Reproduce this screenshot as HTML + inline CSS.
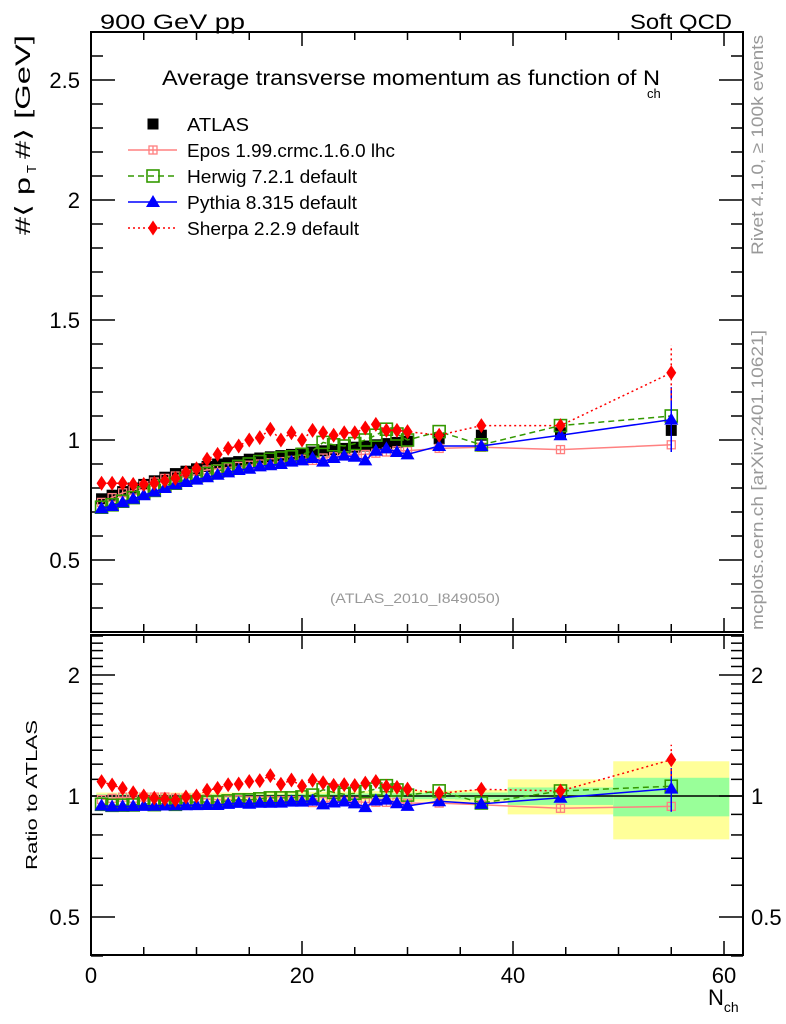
<!DOCTYPE html>
<html><head><meta charset="utf-8">
<style>
html,body{margin:0;padding:0;background:#fff;}
svg{display:block;font-family:"Liberation Sans",sans-serif;}
</style></head>
<body>
<svg id="chart" width="786" height="1024" viewBox="0 0 786 1024">
<g id="bands"></g>
<g id="axes"></g>
<g id="series"></g>
<text x="100" y="29" font-size="21" textLength="145" lengthAdjust="spacingAndGlyphs">900 GeV pp</text>
<text x="630" y="29" font-size="21" textLength="102" lengthAdjust="spacingAndGlyphs">Soft QCD</text>
<text x="162" y="85" font-size="21"><tspan textLength="498" lengthAdjust="spacingAndGlyphs">Average transverse momentum as function of N</tspan><tspan font-size="13" dy="13" dx="-13">ch</tspan></text>
<text x="415" y="603" font-size="14" fill="#999" text-anchor="middle" textLength="170" lengthAdjust="spacingAndGlyphs">(ATLAS_2010_I849050)</text>
<g transform="translate(30,235) rotate(-90)">
<text x="0" y="0" font-size="21" textLength="58" lengthAdjust="spacingAndGlyphs">#⟨ p</text>
<text x="62" y="6" font-size="13">T</text>
<text x="76" y="0" font-size="21" textLength="124" lengthAdjust="spacingAndGlyphs">#⟩ [GeV]</text>
</g>
<text transform="translate(37,795) rotate(-90)" font-size="16" text-anchor="middle" textLength="150" lengthAdjust="spacingAndGlyphs">Ratio to ATLAS</text>
<text x="708" y="1005" font-size="22">N<tspan font-size="14" dy="7">ch</tspan></text>
<text transform="translate(763,145) rotate(-90)" font-size="17" fill="#999" text-anchor="middle" textLength="220" lengthAdjust="spacingAndGlyphs">Rivet 4.1.0, ≥ 100k events</text>
<text transform="translate(763,480) rotate(-90)" font-size="17" fill="#999" text-anchor="middle" textLength="300" lengthAdjust="spacingAndGlyphs">mcplots.cern.ch [arXiv:2401.10621]</text>
<g id="legend"></g>
</svg>
<script>
const nch = [1,2,3,4,5,6,7,8,9,10,11,12,13,14,15,16,17,18,19,20,21,22,23,24,25,26,27,28,29,30,33,37,44.5,55];
const binLo = [0.5,1.5,2.5,3.5,4.5,5.5,6.5,7.5,8.5,9.5,10.5,11.5,12.5,13.5,14.5,15.5,16.5,17.5,18.5,19.5,20.5,21.5,22.5,23.5,24.5,25.5,26.5,27.5,28.5,29.5,30.5,34.5,39.5,49.5];
const binHi = [1.5,2.5,3.5,4.5,5.5,6.5,7.5,8.5,9.5,10.5,11.5,12.5,13.5,14.5,15.5,16.5,17.5,18.5,19.5,20.5,21.5,22.5,23.5,24.5,25.5,26.5,27.5,28.5,29.5,30.5,34.5,39.5,49.5,60.5];
const atlas = [0.755,0.77,0.785,0.80,0.815,0.83,0.845,0.86,0.87,0.88,0.89,0.90,0.905,0.91,0.92,0.925,0.93,0.935,0.94,0.945,0.95,0.955,0.96,0.965,0.97,0.975,0.98,0.985,0.99,0.995,1.005,1.02,1.03,1.04];
const atlasStat = [0.01,0.01,0.01,0.01,0.01,0.01,0.01,0.01,0.01,0.01,0.01,0.01,0.01,0.01,0.01,0.01,0.01,0.01,0.012,0.012,0.012,0.012,0.014,0.014,0.014,0.015,0.015,0.016,0.016,0.017,0.018,0.02,0.05,0.11];
const atlasTot = [0.02,0.02,0.02,0.02,0.02,0.02,0.02,0.02,0.02,0.02,0.02,0.02,0.02,0.02,0.02,0.022,0.022,0.022,0.024,0.024,0.024,0.025,0.026,0.026,0.027,0.028,0.028,0.029,0.03,0.03,0.032,0.035,0.1,0.22];
const epos = [0.74,0.76,0.78,0.79,0.81,0.825,0.84,0.85,0.86,0.87,0.875,0.88,0.885,0.89,0.895,0.90,0.905,0.91,0.915,0.92,0.915,0.925,0.93,0.935,0.94,0.94,0.945,0.95,0.955,0.955,0.965,0.97,0.96,0.98];
const herwig = [0.72,0.73,0.745,0.76,0.78,0.79,0.81,0.82,0.84,0.85,0.86,0.87,0.88,0.89,0.90,0.91,0.92,0.925,0.93,0.94,0.955,0.99,0.98,0.975,0.985,1.0,1.02,1.045,1.025,1.0,1.035,0.98,1.06,1.10];
const pythia = [0.715,0.725,0.74,0.755,0.77,0.785,0.80,0.815,0.825,0.835,0.845,0.855,0.865,0.875,0.88,0.89,0.895,0.90,0.91,0.915,0.925,0.91,0.925,0.935,0.93,0.915,0.955,0.965,0.95,0.94,0.975,0.975,1.02,1.085];
const sherpa = [0.82,0.82,0.82,0.815,0.815,0.82,0.83,0.84,0.865,0.88,0.92,0.94,0.965,0.975,1.0,1.01,1.045,1.0,1.03,1.0,1.04,1.03,1.02,1.03,1.03,1.05,1.065,1.04,1.04,1.035,1.02,1.06,1.06,1.28];
const lastErr = {atlas:0.03, epos:0.02, herwig:0.08, pythia:0.135, sherpa:0.115};
const xTicks = [0,20,40,60];
const yTicks = [0.5,1,1.5,2,2.5];
const rTicks = [0.5,1,2];

const NS='http://www.w3.org/2000/svg';
const X0=91, X1=743, XMAX=61.8;
const MT=32, MB=632, YMIN=0.2, YMAX=2.7;
const RT=635, RB=955, R1=796, RS=121;
const sx=v=>X0+(X1-X0)*v/XMAX;
const sy=v=>MB-(MB-MT)*(v-YMIN)/(YMAX-YMIN);
const sr=v=>R1-RS*Math.log2(v);
function el(tag,attrs,parent){const e=document.createElementNS(NS,tag);for(const k in attrs)e.setAttribute(k,attrs[k]);parent.appendChild(e);return e;}
const axes=document.getElementById('axes'), series=document.getElementById('series'), bands=document.getElementById('bands'), legend=document.getElementById('legend');

for(let i=0;i<nch.length;i++){
  const x1=sx(binLo[i]), x2=sx(binHi[i]);
  const ry=el('rect',{x:x1,y:sr(1+atlasTot[i]),width:x2-x1,height:sr(1-atlasTot[i])-sr(1+atlasTot[i]),fill:'#ffff99'},bands);
  
  
  const rg=el('rect',{x:x1,y:sr(1+atlasStat[i]),width:x2-x1,height:sr(1-atlasStat[i])-sr(1+atlasStat[i]),fill:'#99ff99'},bands);
  
  
}
const f1=el('rect',{x:X0,y:MT,width:X1-X0,height:MB-MT,fill:'none',stroke:'#000','stroke-width':2},axes);


const f2=el('rect',{x:X0,y:RT,width:X1-X0,height:RB-RT,fill:'none',stroke:'#000','stroke-width':2},axes);


const ul=el('line',{x1:X0,x2:X1,y1:sr(1),y2:sr(1),stroke:'#000','stroke-width':1.5},axes);


for(let v=0;v<=XMAX;v+=5){
  const L=(v%20===0)?14:8, x=sx(v);
  [[MT,1],[MB,-1],[RT,1],[RB,-1]].forEach(([y,d])=>{
    const t=el('line',{x1:x,x2:x,y1:y,y2:y+d*L,stroke:'#000','stroke-width':1.5},axes);
    
    
  });
}
xTicks.forEach(v=>{
  const t=el('text',{x:sx(v),y:983,'font-size':22,'text-anchor':'middle'},axes);t.textContent=v;
  
  
});
for(let k=3;k<=26;k++){
  const v=k/10, y=sy(v), L=(k%5===0)?24:12;
  [[X0,1],[X1,-1]].forEach(([x,d])=>{
    const t=el('line',{x1:x,x2:x+d*L,y1:y,y2:y,stroke:'#000','stroke-width':1.5},axes);
    
    
  });
}
yTicks.forEach(v=>{
  const t=el('text',{x:80,y:sy(v)+8,'font-size':22,'text-anchor':'end'},axes);t.textContent=v;
  
  
});
for(let k=4;k<=25;k++){
  const v=k/10, y=sr(v), L=(k===5||k===10||k===20)?24:12;
  [[X0,1],[X1,-1]].forEach(([x,d])=>{
    const t=el('line',{x1:x,x2:x+d*L,y1:y,y2:y,stroke:'#000','stroke-width':1.5},axes);
    
    
  });
}
rTicks.forEach(v=>{
  const t1=el('text',{x:80,y:sr(v)+8,'font-size':22,'text-anchor':'end'},axes);t1.textContent=v;
  
  
  const t2=el('text',{x:751,y:sr(v)+8,'font-size':22},axes);t2.textContent=v;
  
  
});

function marker(type,color,x,y,g){
  let m;
  if(type==='sq') m=el('rect',{x:x-5.5,y:y-5.5,width:11,height:11,fill:'#000'},g);
  else if(type==='osq') m=el('rect',{x:x-6,y:y-6,width:12,height:12,fill:'none',stroke:color,'stroke-width':1.6},g);
  else if(type==='tri') m=el('polygon',{points:`${x},${y-7} ${x-7},${y+5} ${x+7},${y+5}`,fill:color},g);
  else if(type==='dia') m=el('polygon',{points:`${x},${y-7.5} ${x-5},${y} ${x},${y+7.5} ${x+5},${y}`,fill:color},g);
  else { m=el('g',{},g); el('rect',{x:x-4,y:y-4,width:8,height:8,fill:'none',stroke:color,'stroke-width':1.3},m); el('line',{x1:x,x2:x,y1:y-4,y2:y+4,stroke:color,'stroke-width':1.3},m);}
  return m;
}
const models=[
  {name:'epos',data:epos,color:'#ff8080',dash:'',type:'cross',label:'Epos 1.99.crmc.1.6.0 lhc',len:208},
  {name:'herwig',data:herwig,color:'#339900',dash:'6,4',type:'osq',label:'Herwig 7.2.1 default',len:170},
  {name:'pythia',data:pythia,color:'#0000ff',dash:'',type:'tri',label:'Pythia 8.315 default',len:170},
  {name:'sherpa',data:sherpa,color:'#ff0000',dash:'2,3',type:'dia',label:'Sherpa 2.2.9 default',len:172}
];
const ga=el('g',{},series);


atlas.forEach((v,i)=>{
  const m=marker('sq','#000',sx(nch[i]),sy(v),ga);
  
  
});
el('line',{x1:sx(55),x2:sx(55),y1:sy(atlas[33]-lastErr.atlas),y2:sy(atlas[33]+lastErr.atlas),stroke:'#000','stroke-width':1.5},ga);
models.forEach(md=>{
  const g=el('g',{},series);
  
  
  const ptsM=md.data.map((v,i)=>sx(nch[i])+','+sy(v)).join(' ');
  const ptsR=md.data.map((v,i)=>sx(nch[i])+','+sr(v/atlas[i])).join(' ');
  const l1=el('polyline',{points:ptsM,fill:'none',stroke:md.color,'stroke-width':1.5,'stroke-dasharray':md.dash},g);
  
  
  const l2=el('polyline',{points:ptsR,fill:'none',stroke:md.color,'stroke-width':1.5,'stroke-dasharray':md.dash},g);
  
  
  const e=lastErr[md.name], v=md.data[33], a=atlas[33], x=sx(55);
  el('line',{x1:x,x2:x,y1:sy(v-e),y2:sy(v+e),stroke:md.color,'stroke-width':1.5,'stroke-dasharray':md.dash},g);
  el('line',{x1:x,x2:x,y1:sr((v-e)/a),y2:sr((v+e)/a),stroke:md.color,'stroke-width':1.5,'stroke-dasharray':md.dash},g);
  md.data.forEach((v,i)=>{
    const m1=marker(md.type,md.color,sx(nch[i]),sy(v),g);
    
    
    const m2=marker(md.type,md.color,sx(nch[i]),sr(v/atlas[i]),g);
    
    
  });
});
const ly=[124,150,176,202,228];
const le0=el('g',{},legend);


marker('sq','#000',153,ly[0],le0);
const lt0=el('text',{x:187,y:ly[0]+7,'font-size':18,textLength:62,lengthAdjust:'spacingAndGlyphs'},le0);lt0.textContent='ATLAS';
models.forEach((md,i)=>{
  const g=el('g',{},legend);
  
  
  const y=ly[i+1];
  el('line',{x1:128,x2:177,y1:y,y2:y,stroke:md.color,'stroke-width':1.5,'stroke-dasharray':md.dash},g);
  marker(md.type,md.color,153,y,g);
  const t=el('text',{x:187,y:y+7,'font-size':18,textLength:md.len,lengthAdjust:'spacingAndGlyphs'},g);t.textContent=md.label;
});
</script>
</body></html>
